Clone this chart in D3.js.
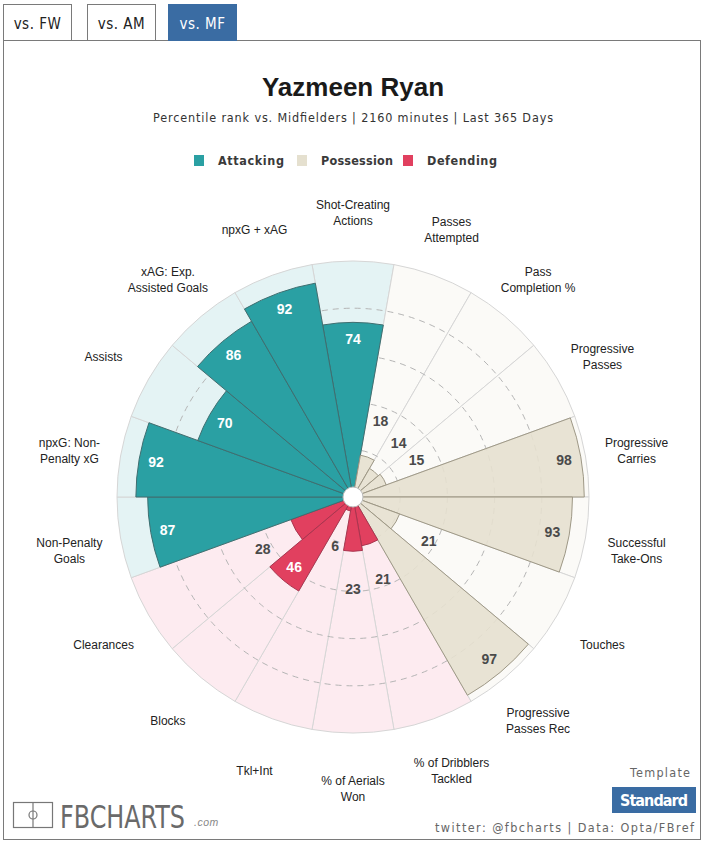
<!DOCTYPE html>
<html>
<head>
<meta charset="utf-8">
<script src="https://cdn.jsdelivr.net/npm/d3@7"></script>
<style>
  body { margin: 0; background: #fff; }
  svg { display: block; }
</style>
</head>
<body>
<script>
// stats in clockwise order, starting at 12 o'clock
let statNames = [
  'Shot-Creating|Actions', 'Passes|Attempted', 'Pass|Completion %', 'Progressive|Passes',
  'Progressive|Carries', 'Successful|Take-Ons', 'Touches', 'Progressive|Passes Rec',
  '% of Dribblers|Tackled', '% of Aerials|Won', 'Tkl+Int', 'Blocks', 'Clearances',
  'Non-Penalty|Goals', 'npxG: Non-|Penalty xG', 'Assists', 'xAG: Exp.|Assisted Goals', 'npxG + xAG'
];
let statGroups = [
  'Attacking', 'Possession', 'Possession', 'Possession', 'Possession', 'Possession', 'Possession', 'Possession',
  'Defending', 'Defending', 'Defending', 'Defending', 'Defending',
  'Attacking', 'Attacking', 'Attacking', 'Attacking', 'Attacking'
];
let percentiles = [74, 18, 14, 15, 98, 93, 21, 97, 21, 23, 6, 46, 28, 87, 92, 70, 86, 92];
let gridTicks = [20, 40, 60, 80];
let legendGroups = ['Attacking', 'Possession', 'Defending'];
let tabLabels = ['vs. FW', 'vs. AM', 'vs. MF'];

let barColor = {'Attacking': '#2aa0a3', 'Possession': '#e5e0cf', 'Defending': '#e1405f'};
let bgColor = {'Attacking': '#e4f3f4', 'Possession': '#fbfaf7', 'Defending': '#fdebf0'};
let edgeColor = {'Attacking': '#3f6e70', 'Possession': '#9e9886', 'Defending': '#a9354f'};

let W = 707, H = 843;
let cx = 353, cy = 497, R = 236;
let narrow = '"Liberation Sans Narrow", "DejaVu Sans Condensed", sans-serif';
let arial = '"Liberation Sans", Arial, sans-serif';

let svg = d3.select('body').append('svg').attr('width', W).attr('height', H);

// tabs + panel
let tabX = [3.5, 87.5, 168.5];
svg.append('rect').attr('x', 3.5).attr('y', 40.5).attr('width', 697).attr('height', 799)
  .attr('fill', '#fff').attr('stroke', '#7a7a7a');
tabLabels.forEach(function(t, i) {
  let active = i === 2;
  svg.append('rect').attr('x', tabX[i]).attr('y', 4.5).attr('width', 68).attr('height', 36)
    .attr('fill', active ? '#3a6ca3' : '#fff').attr('stroke', active ? '#3a6ca3' : '#7a7a7a');
  svg.append('text').attr('x', tabX[i] + 34).attr('y', 29).attr('text-anchor', 'middle')
    .attr('font-family', narrow).attr('font-size', '15px').attr('letter-spacing', '0.5px')
    .attr('fill', active ? '#fff' : '#222').text(t);
});
svg.append('line').attr('x1', 169).attr('x2', 236).attr('y1', 40.5).attr('y2', 40.5)
  .attr('stroke', '#3a6ca3');

// title
svg.append('text').attr('x', cx).attr('y', 96).attr('text-anchor', 'middle')
  .attr('font-family', arial).attr('font-weight', 'bold').attr('font-size', '26px')
  .attr('fill', '#1a1a1a').text('Yazmeen Ryan');
svg.append('text').attr('x', cx).attr('y', 122).attr('text-anchor', 'middle')
  .attr('font-family', narrow).attr('font-size', '12.5px').attr('fill', '#333')
  .attr('textLength', 400).attr('lengthAdjust', 'spacing')
  .text('Percentile rank vs. Midfielders | 2160 minutes | Last 365 Days');

// legend
let legX = [194, 297, 403];
let legW = [66, 72, 70];
legendGroups.forEach(function(g, i) {
  svg.append('rect').attr('x', legX[i]).attr('y', 155).attr('width', 10).attr('height', 11)
    .attr('fill', barColor[g]);
  svg.append('text').attr('x', legX[i] + 24).attr('y', 165)
    .attr('font-family', narrow).attr('font-size', '12.5px').attr('font-weight', 'bold')
    .attr('fill', '#3a3a3a').attr('textLength', legW[i]).attr('lengthAdjust', 'spacing').text(g);
});

// polar chart
let rScale = d3.scaleLinear().domain([0, 100]).range([0, R]);
let step = 2 * Math.PI / percentiles.length;
let stats = percentiles.map(function(v, i) {
  return {name: statNames[i], group: statGroups[i], value: v, i: i,
          startAngle: (i - 0.5) * step, endAngle: (i + 0.5) * step, mid: i * step};
});

let g = svg.append('g').attr('transform', 'translate(' + cx + ',' + cy + ')');

let bgArc = d3.arc().innerRadius(0).outerRadius(rScale(100));
g.selectAll('path.bg').data(stats).enter().append('path').attr('class', 'bg')
  .attr('d', bgArc)
  .attr('fill', function(d) { return bgColor[d.group]; })
  .attr('stroke', '#d6d6d6').attr('stroke-width', 1);

// dashed rings sit under the bars, the pale possession bars let them show a little
g.selectAll('circle.grid').data(gridTicks).enter().append('circle').attr('class', 'grid')
  .attr('r', function(d) { return rScale(d); })
  .attr('fill', 'none').attr('stroke', '#b5b5b5')
  .attr('stroke-dasharray', '6,5');

let barArc = d3.arc().innerRadius(0).outerRadius(function(d) { return rScale(d.value); });
g.selectAll('path.bar').data(stats).enter().append('path').attr('class', 'bar')
  .attr('d', barArc)
  .attr('fill', function(d) { return barColor[d.group]; })
  .attr('fill-opacity', function(d) { return d.group === 'Possession' ? 0.9 : 1; })
  .attr('stroke', function(d) { return edgeColor[d.group]; })
  .attr('stroke-width', 1);

g.append('circle').attr('r', 10).attr('fill', '#fff').attr('stroke', '#bdbdbd');

// value labels
function labelR(d) {
  return d.value >= 35 ? rScale(d.value) - 17 : rScale(d.value) + 38;
}
g.selectAll('text.val').data(stats).enter().append('text').attr('class', 'val')
  .attr('x', function(d) { return Math.sin(d.mid) * labelR(d); })
  .attr('y', function(d) { return -Math.cos(d.mid) * labelR(d); })
  .attr('dy', '0.36em').attr('text-anchor', 'middle')
  .attr('font-family', arial).attr('font-weight', 'bold').attr('font-size', '14px')
  .attr('fill', function(d) {
    if (d.value >= 35 && d.group !== 'Possession') return '#fff';
    return '#4a4a4a';
  })
  .text(function(d) { return d.value; });

// category labels
let lab = g.selectAll('text.cat').data(stats).enter().append('text').attr('class', 'cat')
  .attr('text-anchor', 'middle')
  .attr('font-family', arial).attr('font-size', '12px').attr('fill', '#222');
lab.each(function(d) {
  let lines = d.name.split('|');
  let x = Math.sin(d.mid) * 288;
  let y = -Math.cos(d.mid) * 288 + 7.5 - (lines.length - 1) * 8;
  d3.select(this).selectAll('tspan').data(lines).enter().append('tspan')
    .attr('x', x).attr('y', function(l, k) { return y + k * 16; })
    .text(function(l) { return l; });
});

// footer logo
svg.append('rect').attr('x', 13.5).attr('y', 802.5).attr('width', 39).attr('height', 25)
  .attr('fill', 'none').attr('stroke', '#777').attr('stroke-width', 1.2);
svg.append('line').attr('x1', 33).attr('x2', 33).attr('y1', 802.5).attr('y2', 827.5)
  .attr('stroke', '#777').attr('stroke-width', 1.2);
svg.append('circle').attr('cx', 33).attr('cy', 815).attr('r', 4)
  .attr('fill', 'none').attr('stroke', '#777').attr('stroke-width', 1.2);
svg.append('g').attr('transform', 'translate(60,827.5) scale(1,1.3)')
  .append('text').attr('x', 0).attr('y', 0)
  .attr('font-family', narrow).attr('font-size', '25px').attr('fill', '#6a6a6a')
  .attr('textLength', 125).attr('lengthAdjust', 'spacingAndGlyphs').text('FBCHARTS');
svg.append('text').attr('x', 194).attr('y', 826)
  .attr('font-family', arial).attr('font-style', 'italic').attr('font-size', '10.5px')
  .attr('fill', '#888').attr('letter-spacing', '0.5px').text('.com');

svg.append('text').attr('x', 690).attr('y', 777).attr('text-anchor', 'end')
  .attr('font-family', narrow).attr('font-size', '12.5px').attr('fill', '#666')
  .attr('textLength', 60).attr('lengthAdjust', 'spacing').text('Template');
svg.append('rect').attr('x', 612).attr('y', 787).attr('width', 84).attr('height', 26)
  .attr('fill', '#3a6ca3');
svg.append('text').attr('x', 654).attr('y', 805.5).attr('text-anchor', 'middle')
  .attr('font-family', narrow).attr('font-weight', 'bold').attr('font-size', '16px')
  .attr('fill', '#fff').attr('textLength', 68).attr('lengthAdjust', 'spacing').text('Standard');
svg.append('text').attr('x', 435).attr('y', 831.5)
  .attr('font-family', narrow).attr('font-size', '12.5px').attr('fill', '#666')
  .attr('textLength', 259).attr('lengthAdjust', 'spacing')
  .text('twitter: @fbcharts | Data: Opta/FBref');
</script>
</body>
</html>
